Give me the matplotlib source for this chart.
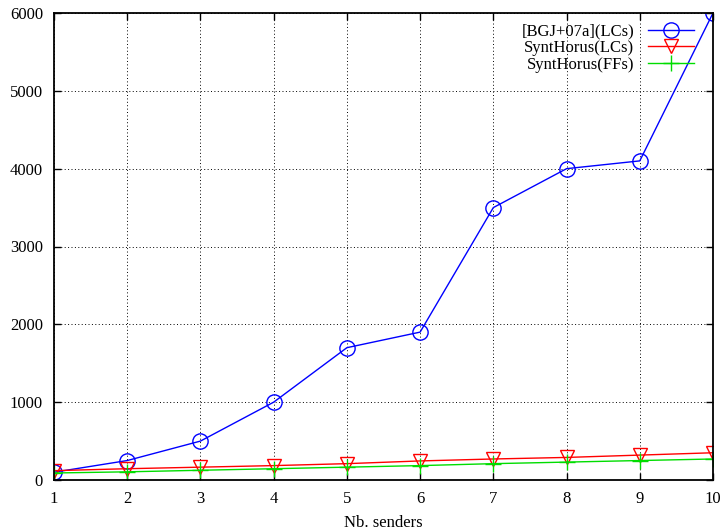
import matplotlib
matplotlib.use("Agg")
import matplotlib.pyplot as plt

senders = [1, 2, 3, 4, 5, 6, 7, 8, 9, 10]
bgj_lcs = [100, 250, 500, 1000, 1700, 1900, 3500, 4000, 4100, 6000]
synthorus_lcs = [120, 145, 165, 185, 210, 245, 270, 290, 320, 350]
synthorus_ffs = [90, 105, 125, 145, 165, 185, 210, 230, 250, 270]
y_ticks = [0, 1000, 2000, 3000, 4000, 5000, 6000]

plt.rcParams['font.family'] = ['Liberation Serif', 'DejaVu Serif']
plt.rcParams['font.size'] = 12

fig = plt.figure(figsize=(7.24, 5.32), dpi=100)
ax = fig.add_axes([54 / 724, 52 / 532, (713 - 54) / 724, (480 - 13) / 532])

ax.plot(senders, bgj_lcs, color='#0000ff', lw=1, marker='o', ms=11,
        mfc='none', mec='#0000ff', mew=1, label='[BGJ+07a](LCs)')
ax.plot(senders, synthorus_lcs, color='#ff0000', lw=1, marker='v', ms=10,
        mfc='none', mec='#ff0000', mew=1, label='SyntHorus(LCs)')
ax.plot(senders, synthorus_ffs, color='#00dd00', lw=1, marker='+', ms=12,
        mew=1, label='SyntHorus(FFs)')

ax.set_xlim(1, 10)
ax.set_ylim(0, 6000)
ax.set_xticks(senders)
ax.set_yticks(y_ticks)
ax.grid(True, color='black', linestyle=(0, (1, 2.5)), linewidth=0.7)
ax.tick_params(direction='in', top=True, right=True, length=5, width=1, pad=8)
for s in ax.spines.values():
    s.set_linewidth(1.3)
ax.set_xlabel('Nb. senders', labelpad=6)

ax.legend(loc='upper right', frameon=False, markerfirst=False,
          handlelength=2.8, borderaxespad=0.0, labelspacing=0.05,
          handletextpad=0.8, bbox_to_anchor=(0.982, 0.992))

fig.savefig('out.png', dpi=100)
